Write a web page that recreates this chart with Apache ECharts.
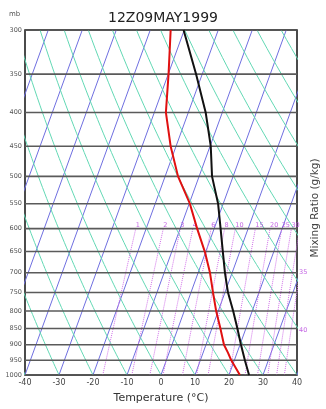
<!DOCTYPE html>
<html>
<head>
<meta charset="utf-8">
<script src="https://cdn.jsdelivr.net/npm/echarts@6/dist/echarts.min.js"></script>
<style>
html,body{margin:0;padding:0;background:#fff}
#skewt{width:326px;height:409px}
</style>
</head>
<body>
<div id="skewt"></div>
<script>
// sounding
var levels = [1000, 950, 900, 850, 800, 750, 700, 650, 600, 550, 500, 450, 400, 350, 300];
var tempC = [25.9, 23.1, 20.3, 17.5, 14.4, 10.9, 7.9, 5.0, 1.9, -1.5, -6.2, -9.8, -14.9, -21.8, -30.2];
var dewLevels = [1000, 950, 925, 900, 850, 800, 750, 700, 650, 600, 550, 500, 450, 400, 350, 300];
var dewC = [23.2, 19.1, 17.3, 15.3, 12.5, 9.4, 6.5, 3.5, -0.3, -5.0, -9.8, -16.2, -21.6, -26.6, -29.9, -34.0];

// background lines
var pTicks = [1000, 950, 900, 850, 800, 750, 700, 650, 600, 550, 500, 450, 400, 350, 300];
var tTicks = [-40, -30, -20, -10, 0, 10, 20, 30, 40];
var isotherms = [-70, -60, -50, -40, -30, -20, -10, 0, 10, 20, 30, 40];
var adiabats = [-40, -30, -20, -10, 0, 10, 20, 30, 40, 50, 60, 70, 80, 90, 100, 110, 120, 130, 140, 150];
var mixRatios = [1, 2, 3, 4, 6, 8, 10, 15, 20, 25, 30, 35, 40];
var mixTopLabels = [1, 2, 3, 4, 6, 8, 10, 15, 20, 25, 30];
var mixSideLabels = [35, 40];
var mixSideP = [700, 855];

var skew = 30.6; // degC per ln(p) unit

function sx(t, p) { return t + skew * Math.log(1000 / p); }
function dryT(t0, p) { return (t0 + 273.15) * Math.pow(p / 1000, 0.2857) - 273.15; }
function mixT(w, p) {
    var e = w * p / (622 + w);
    var l = Math.log(e / 6.112);
    return 243.5 * l / (17.67 - l);
}

var series = [];
isotherms.forEach(function (t) {
    series.push({ type: 'line', silent: true, symbol: 'none', z: 1,
        lineStyle: { color: '#6f6fe0', width: 1 },
        data: [[sx(t, 1000), 1000], [sx(t, 300), 300]] });
});
adiabats.forEach(function (t0) {
    var d = [];
    for (var p = 1000; p >= 300; p -= 10) d.push([sx(dryT(t0, p), p), p]);
    series.push({ type: 'line', silent: true, symbol: 'none', z: 1,
        lineStyle: { color: '#62d8b4', width: 1 }, data: d });
});
mixRatios.forEach(function (w) {
    var d = [];
    for (var p = 1000; p >= 600; p -= 20) d.push([sx(mixT(w, p), p), p]);
    series.push({ type: 'line', silent: true, symbol: 'none', z: 2,
        lineStyle: { color: '#d070e8', width: 1, type: 'dotted' }, data: d });
});
pTicks.forEach(function (p) {
    series.push({ type: 'line', silent: true, symbol: 'none', z: 3,
        lineStyle: { color: '#5a5a5a', width: 1.6 }, data: [[-40, p], [40, p]] });
});
series.push({ type: 'scatter', silent: true, symbolSize: 0, z: 4, clip: false,
    label: { show: true, position: 'top', align: 'left', distance: 0, color: '#b540dd', fontSize: 6.5,
        formatter: function (o) { return o.value[2]; } },
    data: mixTopLabels.map(function (w) { return [sx(mixT(w, 600), 600), 600, w]; }) });
series.push({ type: 'scatter', silent: true, symbolSize: 0, z: 4, clip: false,
    label: { show: true, position: 'right', distance: 2, color: '#b540dd', fontSize: 6.5,
        formatter: function (o) { return o.value[2]; } },
    data: mixSideLabels.map(function (w, i) { return [40, mixSideP[i], w]; }) });
series.push({ type: 'line', symbol: 'none', z: 5, lineStyle: { color: '#e01010', width: 2 },
    data: dewLevels.map(function (p, i) { return [sx(dewC[i], p), p]; }) });
series.push({ type: 'line', symbol: 'none', z: 5, lineStyle: { color: '#111', width: 2 },
    data: levels.map(function (p, i) { return [sx(tempC[i], p), p]; }) });

var myChart = echarts.init(document.getElementById('skewt'));
myChart.setOption({
    animation: false,
    textStyle: { fontFamily: 'DejaVu Sans' },
    title: { text: '12Z09MAY1999', left: 'center', top: 6,
        textStyle: { fontSize: 14, fontWeight: 'normal', color: '#222' } },
    grid: { left: 25, right: 29, top: 30, bottom: 28, show: true, borderColor: '#111', borderWidth: 1.5 },
    xAxis: { type: 'value', min: -40, max: 40, interval: 10,
        axisLine: { show: false }, axisTick: { show: false }, splitLine: { show: false },
        axisLabel: { fontSize: 8, color: '#444', margin: 4, customValues: tTicks },
        name: 'Temperature (\u00b0C)', nameLocation: 'middle', nameGap: 18,
        nameTextStyle: { fontSize: 11, color: '#333' } },
    yAxis: { type: 'log', inverse: true, min: 300, max: 1000,
        axisLine: { show: false }, axisTick: { show: false }, splitLine: { show: false },
        axisLabel: { fontSize: 6.5, color: '#555', margin: 3, customValues: pTicks,
            formatter: function (v) { return String(Math.round(v)); } } },
    graphic: [
        { type: 'text', left: 9, top: 11, style: { text: 'mb', fontSize: 7, fill: '#555', fontFamily: 'DejaVu Sans' } },
        { type: 'text', x: 315, y: 208, rotation: Math.PI / 2,
          style: { text: 'Mixing Ratio (g/kg)', fontSize: 10.5, fill: '#444', fontFamily: 'DejaVu Sans',
                   align: 'center', verticalAlign: 'middle' } }
    ],
    series: series
});
</script>
</body>
</html>
